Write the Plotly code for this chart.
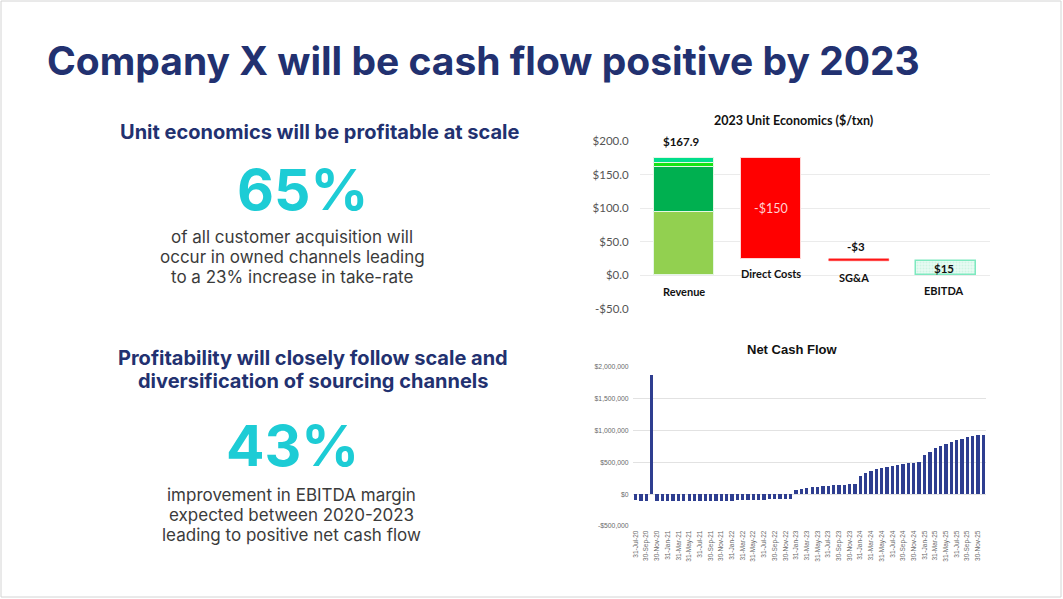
import plotly.graph_objects as go
import pandas as pd

W, H = 1063, 599

# ---------------- text content ----------------
title_text = "Company X will be cash flow positive by 2023"
head1 = "Unit economics will be profitable at scale"
big1 = "65%"
body1 = ["of all customer acquisition will",
         "occur in owned channels leading",
         "to a 23% increase in take-rate"]
head2 = ["Profitability will closely follow scale and",
         "diversification of sourcing channels"]
big2 = "43%"
body2 = ["improvement in EBITDA margin",
         "expected between 2020-2023",
         "leading to positive net cash flow"]

# ---------------- unit economics data ----------------
ue_categories = ["Revenue", "Direct Costs", "SG&A", "EBITDA"]
rev_segments = [95, 66, 7, 7]
rev_colors = ["#92D050", "#00B050", "#14E414", "#00DE8C"]
direct_costs = -150
sga = -3
ue_labels = ["$167.9", "-$150", "-$3", "$15"]
ue_ticks = [-50, 0, 50, 100, 150, 200]
ue_ticktext = ["-$50.0", "$0.0", "$50.0", "$100.0", "$150.0", "$200.0"]

# ---------------- net cash flow data ----------------
months = pd.date_range("2020-07-31", "2025-12-31", freq="ME")
ncf_labels = [d.strftime("%d-%b-%y") for d in months]
ncf_values = [
    -95000, -100000, -100000, 1880000,
    -110000, -112000, -112000, -112000, -112000, -112000, -112000,
    -112000, -112000, -112000, -112000, -112000, -110000, -108000,
    -100000, -98000, -95000, -92000, -90000, -88000, -85000, -82000,
    -78000, -75000, -72000, -68000,
    65000, 84000, 100000, 110000, 121000, 131000, 131000, 142000,
    147000, 147000, 158000, 158000,
    284000, 326000, 358000, 389000, 405000, 431000, 447000, 458000,
    473000, 484000, 494000, 500000, 610000, 668000, 720000, 763000,
    794000, 826000, 852000, 873000, 900000, 915000, 926000, 931000,
]
ncf_ticks = [-500000, 0, 500000, 1000000, 1500000, 2000000]
ncf_ticktext = ["-$500,000", "$0", "$500,000", "$1,000,000", "$1,500,000", "$2,000,000"]

NAVY = "#223170"
TEAL = "#1DCCD5"
BODY = "#3B3B3B"
HFONT = "Inter, Lato, sans-serif"
XLFONT = "Lato, Carlito, sans-serif"
ARIAL = "Liberation Sans, Arial, sans-serif"


def px(x):
    return x / W


def py(y):
    return 1 - y / H


def note(x, y, text, font, xanchor="center", **kw):
    fig.add_annotation(x=px(x), y=py(y), xref="paper", yref="paper", text=text,
                       showarrow=False, xanchor=xanchor, yanchor="middle", font=font, **kw)


fig = go.Figure()

# ---- unit economics bars ----
base = 0
for seg, col in zip(rev_segments, rev_colors):
    fig.add_trace(go.Bar(x=[ue_categories[0]], y=[seg], base=[base],
                         marker=dict(color=col, line=dict(color="#E4F7E4", width=1)),
                         width=0.69, xaxis="x", yaxis="y", showlegend=False,
                         hoverinfo="skip"))
    base += seg
rev_total = base
dc_bottom = rev_total + direct_costs
fig.add_trace(go.Bar(x=[ue_categories[1]], y=[-direct_costs], base=[dc_bottom],
                     marker=dict(color="#FF0000", line=dict(color="#FFD6D6", width=1)),
                     width=0.69, xaxis="x", yaxis="y", showlegend=False, hoverinfo="skip"))
sga_bottom = dc_bottom + sga
fig.add_trace(go.Bar(x=[ue_categories[2]], y=[-sga], base=[sga_bottom],
                     marker=dict(color="#FF1010", line=dict(color="#FF4040", width=0.5)),
                     width=0.69, xaxis="x", yaxis="y", showlegend=False, hoverinfo="skip"))
ebitda = sga_bottom
fig.add_trace(go.Bar(x=[ue_categories[3]], y=[ebitda], base=[0],
                     marker=dict(color="#E6FBF1", line=dict(color="#7EE9C0", width=1.5),
                                 pattern=dict(shape=".", fgcolor="#B5EFD6",
                                              bgcolor="#E9FBF3", size=3, solidity=0.4)),
                     width=0.69, xaxis="x", yaxis="y", showlegend=False, hoverinfo="skip"))

bottoms = [0, dc_bottom, sga_bottom, 0]
DARK = "#111111"
fig.add_annotation(x=ue_categories[0], y=rev_total, xref="x", yref="y", text="<b>%s</b>" % ue_labels[0],
                   showarrow=False, xanchor="center", yanchor="bottom", yshift=8, xshift=-3,
                   font=dict(family=XLFONT, size=11.5, color=DARK))
fig.add_annotation(x=ue_categories[1], y=(rev_total + dc_bottom) / 2, xref="x", yref="y",
                   text=ue_labels[1], showarrow=False, xanchor="center", yanchor="middle",
                   font=dict(family=XLFONT, size=12.5, color="#FFD2D2"))
fig.add_annotation(x=ue_categories[2], y=dc_bottom, xref="x", yref="y", text="<b>%s</b>" % ue_labels[2],
                   showarrow=False, xanchor="center", yanchor="bottom", yshift=4, xshift=-3,
                   font=dict(family=XLFONT, size=11.5, color=DARK))
fig.add_annotation(x=ue_categories[3], y=ebitda / 2, xref="x", yref="y", text="<b>%s</b>" % ue_labels[3],
                   showarrow=False, xanchor="center", yanchor="middle", xshift=-2,
                   font=dict(family=XLFONT, size=11.5, color=DARK))
cat_shifts = [-16, -15, -17, -15]
cat_xshifts = [0, 0, -5, -2]
for cat, b, sh, xs in zip(ue_categories, bottoms, cat_shifts, cat_xshifts):
    fig.add_annotation(x=cat, y=b, xref="x", yref="y", text="<b>%s</b>" % cat,
                       showarrow=False, xanchor="center", yanchor="middle", yshift=sh, xshift=xs,
                       font=dict(family=XLFONT, size=11, color=DARK))

# ---- net cash flow bars ----
fig.add_trace(go.Bar(x=ncf_labels, y=ncf_values, marker=dict(color="#2E3E90", line=dict(width=0)),
                     width=0.62, xaxis="x2", yaxis="y2", showlegend=False, hoverinfo="skip"))

# ---- chart titles ----
note(793, 121, "<b>2023 Unit Economics ($/txn)</b>", dict(family=XLFONT, size=12.5, color=DARK))
note(792, 349, "<b>Net Cash Flow</b>", dict(family=ARIAL, size=13, color=DARK))

# ---- left text ----
note(45, 60, "<b>%s</b>" % title_text, dict(family=HFONT, size=39, color=NAVY), xanchor="left")
note(320, 132, "<b>%s</b>" % head1, dict(family=HFONT, size=20, color=NAVY))
note(302, 189, "<b>%s</b>" % big1, dict(family=HFONT, size=57, color=TEAL))
for i, line in enumerate(body1):
    note(292, 237 + 20 * i, line, dict(family=HFONT, size=17, color=BODY))
for i, line in enumerate(head2):
    note(313, 358 + 23 * i, "<b>%s</b>" % line, dict(family=HFONT, size=20, color=NAVY))
note(292, 445, "<b>%s</b>" % big2, dict(family=HFONT, size=57, color=TEAL))
for i, line in enumerate(body2):
    note(291, 495 + 20 * i, line, dict(family=HFONT, size=17, color=BODY))

# slide frame
fig.add_shape(type="rect", xref="paper", yref="paper", x0=px(1), y0=py(597), x1=px(1061), y1=py(1),
              line=dict(color="#D4D4D4", width=1), fillcolor="rgba(0,0,0,0)")

fig.update_layout(
    width=W, height=H, margin=dict(l=0, r=0, t=0, b=0, autoexpand=False),
    paper_bgcolor="white", plot_bgcolor="white", barmode="overlay", bargap=0,
    xaxis=dict(domain=[px(640), px(990)], anchor="y", type="category",
               categoryorder="array", categoryarray=ue_categories, automargin=False,
               showticklabels=False, showgrid=False, zeroline=False, showline=False),
    yaxis=dict(domain=[py(309), py(141)], anchor="x", range=[-50, 200], automargin=False,
               tickvals=ue_ticks, ticktext=ue_ticktext, showgrid=True,
               gridcolor="#EBEBEB", gridwidth=1, zeroline=False, showline=False,
               ticks="outside", ticklen=8, tickcolor="rgba(0,0,0,0)",
               tickfont=dict(family=XLFONT, size=11.5, color="#555555")),
    xaxis2=dict(domain=[px(633), px(986)], anchor="y2", type="category",
                categoryorder="array", categoryarray=ncf_labels, automargin=False,
                tickvals=ncf_labels[::2], ticktext=ncf_labels[::2], tickangle=-90,
                tickfont=dict(family=ARIAL, size=6.5, color="#6A6A6A"),
                showgrid=False, zeroline=False, showline=False,
                ticks="outside", ticklen=1, tickcolor="rgba(0,0,0,0)"),
    yaxis2=dict(domain=[py(526), py(367)], anchor="x2", range=[-500000, 2000000], automargin=False,
                tickvals=ncf_ticks, ticktext=ncf_ticktext, showgrid=True,
                gridcolor="#E2E2E2", gridwidth=1, zeroline=False, showline=False,
                ticks="outside", ticklen=2, tickcolor="rgba(0,0,0,0)",
                tickfont=dict(family=ARIAL, size=6.8, color="#6A6A6A")),
)

POST = (
    "document.documentElement.style.margin='0';"
    "document.documentElement.style.padding='0';"
    "document.documentElement.style.overflow='hidden';"
    "document.body.style.margin='0';"
    "document.body.style.padding='0';"
    "document.body.style.overflow='hidden';"
    "var g=document.querySelector('.plotly-graph-div');"
    "g.style.position='fixed';g.style.top='0px';g.style.left='0px';"
)

fig.write_html("out.html", config={"displayModeBar": False, "responsive": False},
               post_script=POST)
